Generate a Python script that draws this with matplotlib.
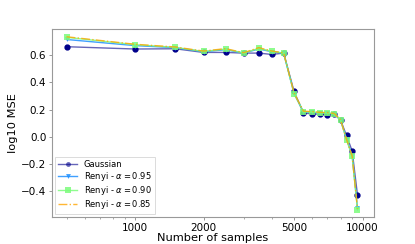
import matplotlib
matplotlib.use("Agg")
import matplotlib.pyplot as plt
from matplotlib.ticker import FixedLocator, FixedFormatter, NullFormatter

samples = [500, 1000, 1500, 2000, 2500, 3000, 3500, 4000, 4500, 5000,
           5500, 6000, 6500, 7000, 7500, 8000, 8500, 9000, 9500]

gaussian = [0.662, 0.645, 0.647, 0.620, 0.620, 0.615, 0.615, 0.605, 0.615, 0.333,
            0.174, 0.169, 0.166, 0.164, 0.167, 0.124, 0.010, -0.104, -0.428]
renyi_095 = [0.715, 0.670, 0.655, 0.625, 0.640, 0.615, 0.645, 0.625, 0.615, 0.318,
             0.182, 0.180, 0.176, 0.173, 0.169, 0.124, -0.015, -0.138, -0.525]
renyi_090 = [0.731, 0.677, 0.657, 0.627, 0.645, 0.615, 0.650, 0.627, 0.615, 0.316,
             0.184, 0.182, 0.177, 0.174, 0.169, 0.124, -0.020, -0.144, -0.535]
renyi_085 = [0.735, 0.680, 0.660, 0.630, 0.648, 0.618, 0.655, 0.630, 0.617, 0.322,
             0.188, 0.186, 0.180, 0.178, 0.172, 0.126, -0.018, -0.140, -0.530]

xtick_vals = [1000, 2000, 5000, 10000]
xtick_labels = ["1000", "2000", "5000", "10000"]

fig = plt.figure(figsize=(4.15, 2.44), dpi=100)
ax = fig.add_axes([0.125, 0.11, 0.775, 0.77])

ax.plot(samples, gaussian, color="#00008B", marker="o", markersize=3.5,
        linewidth=1.0, alpha=0.6, markeredgewidth=0, label="Gaussian")
ax.plot(samples, gaussian, color="#00008B", marker="o", markersize=3.5,
        linewidth=0, alpha=1.0)
ax.plot(samples, renyi_095, color="#1E90FF", marker="v", markersize=3.5,
        linewidth=1.0, alpha=0.85, markeredgewidth=0, label=r"Renyi - $\alpha = 0.95$")
ax.plot(samples, renyi_090, color="#7CFC7C", marker="s", markersize=3.8,
        linewidth=1.0, alpha=0.85, markeredgewidth=0, label=r"Renyi - $\alpha = 0.90$")
ax.plot(samples, renyi_085, color="#FFA500", linestyle="-.", linewidth=1.0,
        alpha=0.8, label=r"Renyi - $\alpha = 0.85$")

ax.set_xscale("log")
ax.xaxis.set_major_locator(FixedLocator(xtick_vals))
ax.xaxis.set_major_formatter(FixedFormatter(xtick_labels))
ax.xaxis.set_minor_formatter(NullFormatter())
ax.set_xlim(431, 11170)
ax.set_ylim(-0.59, 0.79)
ax.set_yticks([-0.4, -0.2, 0.0, 0.2, 0.4, 0.6])

ax.tick_params(axis="both", which="major", labelsize=7.5, length=2.5, width=0.6,
               color="#888888", pad=1.5)
ax.tick_params(axis="both", which="minor", length=1.5, width=0.5, color="#888888")
for s in ax.spines.values():
    s.set_color("#999999")
    s.set_linewidth(0.8)

ax.set_xlabel("Number of samples", fontsize=8.2, labelpad=0)
ax.set_ylabel("log10 MSE", fontsize=8.2, labelpad=2)

leg = ax.legend(loc="lower left", fontsize=6.0, frameon=True, handlelength=2.3,
                borderpad=0.35, labelspacing=0.12, fancybox=False,
                borderaxespad=0.4)
leg.get_frame().set_edgecolor("#cccccc")
leg.get_frame().set_linewidth(0.6)

fig.savefig("out.png", dpi=100)
